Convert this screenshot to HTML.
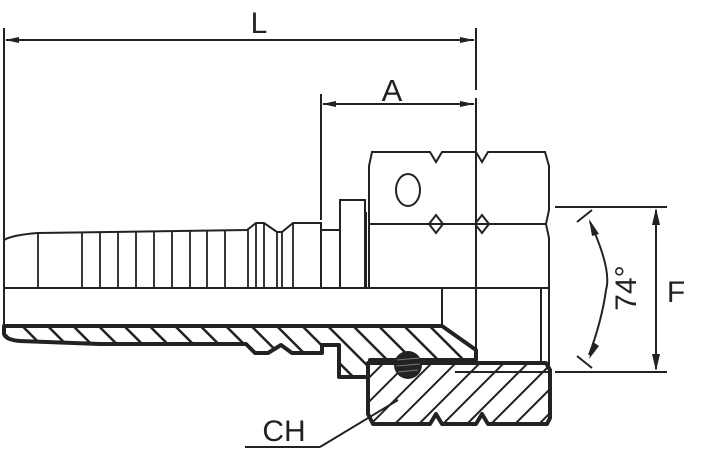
<!DOCTYPE html>
<html><head><meta charset="utf-8"><style>
html,body{margin:0;padding:0;background:#fff;}
svg{display:block;}
text{font-family:"Liberation Sans",sans-serif;fill:#222;}
</style></head><body>
<svg width="711" height="465" viewBox="0 0 711 465" xmlns="http://www.w3.org/2000/svg">
<defs>
<pattern id="hb" patternUnits="userSpaceOnUse" width="18" height="18" patternTransform="rotate(-45)">
<rect width="18" height="18" fill="#fff"/><rect x="0" y="0" width="2.5" height="18" fill="#222"/></pattern>
<pattern id="hf" patternUnits="userSpaceOnUse" width="17" height="17" patternTransform="rotate(45)">
<rect width="17" height="17" fill="#fff"/><rect x="0" y="0" width="2" height="17" fill="#222"/></pattern>
<marker id="ar" markerWidth="14" markerHeight="8" refX="14" refY="4" orient="auto" markerUnits="userSpaceOnUse">
<path d="M0,1 L14,4 L0,7 Z" fill="#222"/></marker>
</defs>
<g stroke="#222" fill="none" stroke-width="2">
<line x1="4" y1="28" x2="4" y2="328"/>
<line x1="476" y1="28" x2="476" y2="90"/>
<line x1="476" y1="98" x2="476" y2="360"/>
<line x1="6" y1="40" x2="474" y2="40" marker-end="url(#ar)"/>
<path d="M5,40 L19,37 L19,43 Z" fill="#222" stroke="none"/>
<line x1="321" y1="94" x2="321" y2="220"/>
<line x1="323" y1="104" x2="474" y2="104" marker-end="url(#ar)"/>
<path d="M322,104 L336,101 L336,107 Z" fill="#222" stroke="none"/>
<path d="M369,288 L369,166 L372,152 L430,152 L436,162 L442,152 L476,152 L482,162 L488,152 L545,152 L549,166 L549,210 L546,224 L549,238 L549,288"/>
<line x1="369" y1="224" x2="546" y2="224"/>
<path d="M436,215 L443,224 L436,233 L429,224 Z"/>
<path d="M482,215 L489,224 L482,233 L475,224 Z"/>
<ellipse cx="408" cy="190" rx="12" ry="16"/>
<line x1="476" y1="152" x2="476" y2="288"/>
<line x1="366" y1="212" x2="366" y2="288"/>
<path d="M340,288 L340,200 L365,200 L365,288"/>
<path d="M321,230 L340,230"/>
<path d="M4,288 L4,240 Q12,235 38,233 L247,230 L256,223 L264,223 L277,232 L282,232 L293,223 L321,223 L321,288"/>
<line x1="4" y1="288" x2="549" y2="288"/>
<g stroke-width="1.8">
<line x1="38" y1="233" x2="38" y2="288"/><line x1="82" y1="232" x2="82" y2="288"/>
<line x1="100" y1="232" x2="100" y2="288"/><line x1="118" y1="232" x2="118" y2="288"/>
<line x1="136" y1="232" x2="136" y2="288"/><line x1="154" y1="232" x2="154" y2="288"/>
<line x1="172" y1="232" x2="172" y2="288"/><line x1="190" y1="231" x2="190" y2="288"/>
<line x1="207" y1="231" x2="207" y2="288"/><line x1="225" y1="231" x2="225" y2="288"/>
<line x1="248" y1="230" x2="248" y2="288"/><line x1="256" y1="224" x2="256" y2="288"/>
<line x1="264" y1="224" x2="264" y2="288"/><line x1="277" y1="232" x2="277" y2="288"/>
<line x1="282" y1="232" x2="282" y2="288"/><line x1="293" y1="224" x2="293" y2="288"/>
</g>
<line x1="442" y1="288" x2="442" y2="328"/>
<line x1="541" y1="288" x2="541" y2="363"/>
<line x1="549" y1="288" x2="549" y2="366"/>
</g>
<path d="M4,326 L442,326 L476,350 L476,360 L370,360 L370,377 L339,377 L339,345 L322,345 L322,353 L292,353 L281,345 L268,353 L255,353 L246,344 L100,344 L20,341 Q6,340 4,334 Z" fill="url(#hb)" stroke="#222" stroke-width="4" stroke-linejoin="round"/>
<path d="M368,363 L546,363 L550,370 L550,418 L547,424 L488,424 L482,414 L476,424 L442,424 L436,414 L430,424 L373,424 L368,414 Z" fill="url(#hf)" stroke="#222" stroke-width="4" stroke-linejoin="round"/>
<line x1="455" y1="372" x2="548" y2="372" stroke="#222" stroke-width="2"/>
<circle cx="408" cy="365" r="14" fill="#222"/>
<g stroke="#777" stroke-width="1"><line x1="397" y1="360" x2="419" y2="358"/><line x1="396" y1="366" x2="420" y2="364"/><line x1="398" y1="372" x2="418" y2="370"/></g>
<g stroke="#222" stroke-width="2" fill="none">
<line x1="245" y1="447" x2="320" y2="447"/>
<line x1="320" y1="447" x2="398" y2="400"/>
<line x1="555" y1="207" x2="667" y2="207"/>
<line x1="555" y1="372" x2="667" y2="372"/>
<line x1="656" y1="210" x2="656" y2="369"/>
<path d="M590,222 Q612,270 606,290 Q602,320 589,355"/>
<line x1="577" y1="222" x2="592" y2="210"/>
<line x1="577" y1="356" x2="592" y2="368"/>
</g>
<path d="M656,208 L652,225 L660,225 Z M656,371 L652,354 L660,354 Z" fill="#222"/>
<path d="M589,219 L599,234 L592,236 Z M589,359 L593,342 L599,346 Z" fill="#222"/>
<text x="259" y="33" font-size="30" text-anchor="middle">L</text>
<text x="392" y="101" font-size="31" text-anchor="middle">A</text>
<text x="676" y="302" font-size="30" text-anchor="middle">F</text>
<text x="284" y="441" font-size="30" text-anchor="middle">CH</text>
<text transform="translate(636,288) rotate(-90)" font-size="30" text-anchor="middle">74°</text>
</svg>
</body></html>
